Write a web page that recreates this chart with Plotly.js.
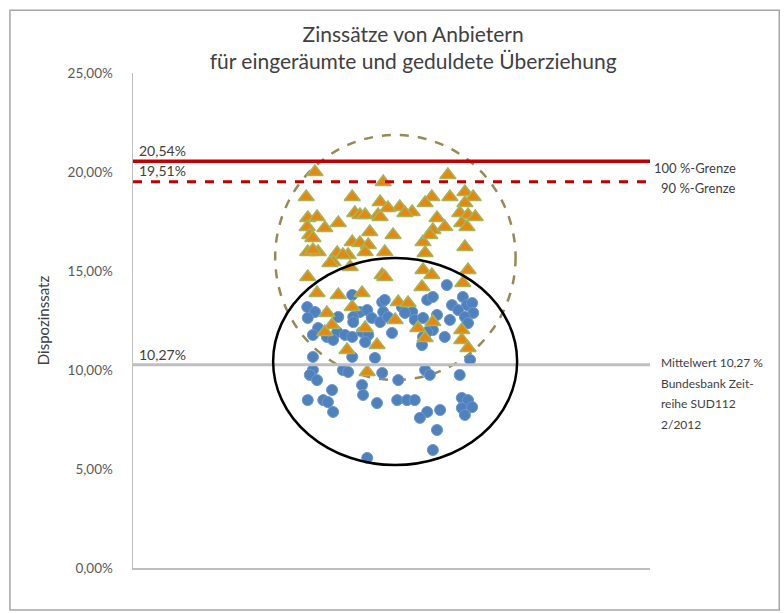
<!DOCTYPE html>
<html>
<head>
<meta charset="utf-8">
<script src="https://cdn.plot.ly/plotly-3.0.1.min.js"></script>
<style>html,body{margin:0;padding:0;background:#fff;}#chart{width:784px;height:613px;}</style>
</head>
<body>
<div id="chart"></div>
<script>
// Orange triangles (rates of providers, upper cluster)
const triX = [35.2,48.4,60.9,33.5,42.4,47.8,42.9,43.9,44.9,33.8,35.6,39.7,33.7,37.1,47.4,47.8,45.8,34.2,34.8,42.4,43.9,45.5,33.8,35.8,34.8,39.5,41.6,40.6,44.9,38.7,48.7,64.2,57.8,56.5,61.3,65.8,51.6,54.0,52.6,64.2,63.2,64.8,66.2,49.3,58.8,63.6,58.0,60.3,64.6,50.3,56.1,57.4,64.2,56.5,38.1,42.0,48.2,33.8,35.6,39.7,44.3,37.5,42.4,38.5,44.9,47.2,41.4,37.1,56.1,57.8,55.9,64.8,63.8,51.3,53.2,50.7,58.0,55.1,63.6,56.5,63.6,64.8,48.7,45.3];
const triY = [20.0,19.49,19.85,18.74,18.74,18.48,17.93,17.83,17.83,17.68,17.73,17.42,17.22,17.17,17.83,17.73,16.97,16.82,16.67,16.46,16.41,16.31,15.96,15.96,16.06,15.91,15.81,15.81,15.96,15.45,15.96,18.99,18.74,18.43,18.74,18.74,18.23,17.98,17.93,18.43,17.93,17.83,17.73,18.18,17.68,17.42,17.07,17.22,17.22,16.82,16.46,16.82,16.21,15.91,15.40,15.20,14.80,14.70,13.89,13.79,13.89,12.88,13.18,12.27,12.12,11.26,11.01,11.92,15.05,14.80,14.19,15.05,14.39,13.43,13.38,12.53,12.42,12.12,12.02,11.62,11.52,11.11,14.70,9.90];
// Blue circles (lower cluster)
const cirX = [42.4,33.7,35.2,33.8,43.9,45.3,42.6,39.7,48.2,48.4,46.2,47.8,42.6,35.8,34.8,39.5,41.0,42.4,44.3,45.5,37.5,38.7,44.9,42.4,34.8,46.8,60.7,56.9,58.0,52.0,54.0,52.6,61.7,63.8,64.6,65.6,62.9,65.8,64.2,49.3,54.5,56.1,58.8,61.3,58.0,56.9,56.1,60.3,50.1,64.8,55.9,65.2,48.7,34.8,34.2,35.6,40.6,41.6,48.2,56.5,57.4,51.3,63.2,44.3,38.5,44.5,33.8,36.8,37.7,47.2,51.1,53.0,54.5,63.6,64.8,38.7,56.9,55.5,59.4,63.6,65.6,64.2,58.8,58.0,45.3];
const cirY = [13.79,13.18,12.93,12.63,12.93,13.03,12.68,12.68,13.43,12.93,12.63,12.42,12.42,12.12,11.77,11.92,11.77,11.67,11.92,11.77,11.67,11.52,11.41,10.66,10.66,10.61,14.29,13.54,13.69,13.18,12.93,12.88,13.28,13.69,13.28,13.38,13.03,12.88,12.68,12.68,12.53,12.63,12.78,12.53,12.02,11.92,11.67,11.67,11.87,12.37,11.26,10.51,13.54,10.0,9.75,9.49,10.0,9.90,9.85,10.0,9.75,9.49,9.75,9.24,8.99,8.74,8.48,8.48,8.38,8.33,8.48,8.48,8.48,8.59,8.48,7.88,7.88,7.58,7.98,8.08,8.13,7.73,6.97,5.96,5.56];

const tickVals = [0,5,10,15,20,25];
const tickText = ["0,00%","5,00%","10,00%","15,00%","20,00%","25,00%"];
const limit100 = 20.54, limit90 = 19.51, meanRate = 10.27;
const limitLabels = ["20,54%","19,51%","10,27%"];
const rightLabels = ["100 %-Grenze","90 %-Grenze"];
const meanNote = ["Mittelwert 10,27 %","Bundesbank Zeit-","reihe SUD112","2/2012"];

const FONT = "Lato, 'Open Sans', sans-serif";
const traces = [
  {x: cirX, y: cirY, type:'scatter', mode:'markers', hoverinfo:'skip',
   marker:{symbol:'circle', size:11, color:'#4F81BD', line:{color:'#6A97CF', width:1}}},
  {x: triX, y: triY, type:'scatter', mode:'markers', hoverinfo:'skip',
   marker:{symbol:'triangle-up', size:14, color:'#E8870F', line:{color:'#A3B65A', width:1.5}}}
];

const shapes = [
  {type:'rect', xref:'paper', yref:'paper', x0:-0.238, x1:1.25, y0:-0.085, y1:1.127, line:{color:'#A6A6A6', width:1.5}},
  {type:'line', xref:'paper', yref:'y', x0:0, x1:1, y0:limit100, y1:limit100, line:{color:'#C00000', width:3.5}},
  {type:'line', xref:'paper', yref:'y', x0:0, x1:1, y0:limit90, y1:limit90, line:{color:'#C00000', width:3, dash:'dash'}},
  {type:'line', xref:'paper', yref:'y', x0:0, x1:1, y0:meanRate, y1:meanRate, line:{color:'#BFBFBF', width:3}},
  {type:'circle', xref:'x', yref:'y', x0:27.5, x1:74, y0:9.5, y1:21.87, line:{color:'#948A54', width:2.5, dash:'dash'}, layer:'below'},
  {type:'circle', xref:'x', yref:'y', x0:27.1, x1:74.3, y0:5.2, y1:15.66, line:{color:'#000000', width:2.5}, layer:'above'}
];

const annFont = {family: FONT, size: 14, color:'#404040'};
const annotations = [
  {xref:'paper', yref:'y', x:0.008, y:limit100, yshift:0, xanchor:'left', yanchor:'bottom', text:limitLabels[0], showarrow:false, font:annFont},
  {xref:'paper', yref:'y', x:0.008, y:limit90, yshift:1, xanchor:'left', yanchor:'bottom', text:limitLabels[1], showarrow:false, font:annFont},
  {xref:'paper', yref:'y', x:0.008, y:meanRate, yshift:0, xanchor:'left', yanchor:'bottom', text:limitLabels[2], showarrow:false, font:annFont},
  {xref:'paper', yref:'y', x:0.003, xshift:517, y:limit100-0.35, xanchor:'left', yanchor:'middle', text:rightLabels[0], showarrow:false, font:{family:FONT, size:13, color:'#404040'}},
  {xref:'paper', yref:'y', x:0.017, xshift:517, y:limit90-0.3, xanchor:'left', yanchor:'middle', text:rightLabels[1], showarrow:false, font:{family:FONT, size:13, color:'#404040'}}
];
meanNote.forEach((t,i)=>{
  annotations.push({xref:'paper', yref:'y', x:1.018, y:meanRate+0.1-i*1.04, xanchor:'left', yanchor:'middle', text:t, showarrow:false, font:{family:FONT, size:12, color:'#404040'}});
});

const layout = {
  width:784, height:613,
  margin:{l:133, r:134, t:73, b:45},
  paper_bgcolor:'#fff', plot_bgcolor:'#fff',
  showlegend:false,
  font:{family:FONT, color:'#595959'},
  title:{text:'Zinssätze von Anbietern<br>für eingeräumte und geduldete Überziehung', xref:'container', x:0.527, xanchor:'center', yref:'container', y:0.932, yanchor:'top', font:{family:FONT, size:21, color:'#404040'}},
  xaxis:{range:[0,100], showgrid:false, zeroline:false, showticklabels:false, ticks:'', showline:true, linecolor:'#BFBFBF', linewidth:1.5, fixedrange:true},
  yaxis:{range:[0,25], tickvals:tickVals, ticktext:tickText, showgrid:false, zeroline:false, showline:true, linecolor:'#BFBFBF', linewidth:1.5, ticks:'', ticklen:0, tickfont:{family:FONT, size:13.5, color:'#595959'}, ticklabelstandoff:16,
         title:{text:'Dispozinssatz', font:{family:FONT, size:15, color:'#404040'}, standoff:14}},
  shapes:shapes, annotations:annotations
};
Plotly.newPlot('chart', traces, layout, {staticPlot:true, displayModeBar:false});
</script>
</body>
</html>
